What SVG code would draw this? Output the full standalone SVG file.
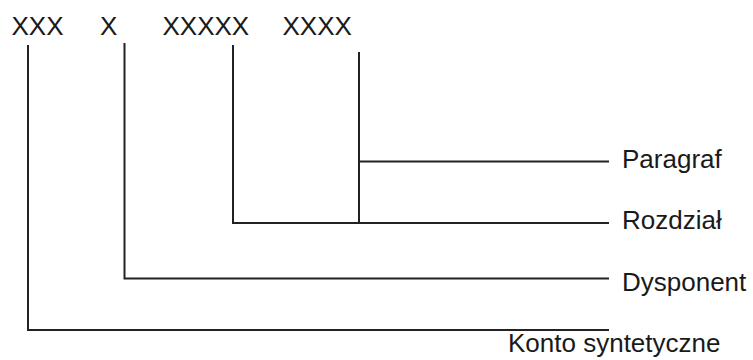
<svg xmlns="http://www.w3.org/2000/svg" width="753" height="360" viewBox="0 0 753 360">
<style>
text{font-family:"Liberation Sans",Arial,sans-serif;font-size:26px;fill:#1a1a1a}
.c{fill:none;stroke:#222;stroke-width:2;stroke-linecap:butt;stroke-linejoin:miter}
</style>
<rect width="753" height="360" fill="#fff"/>
<g id="codes">
<text x="11.5" y="35">XXX</text>
<text x="100" y="35">X</text>
<text x="162.5" y="35">XXXXX</text>
<text x="282.5" y="35">XXXX</text>
</g>
<g id="connectors">
<polyline class="c" points="28,45 28,330 609,330"/>
<polyline class="c" points="124.5,43 124.5,278.5 609,278.5"/>
<polyline class="c" points="233,45 233,223 609,223"/>
<line class="c" x1="359" y1="52" x2="359" y2="223"/>
<line class="c" x1="359" y1="161.5" x2="609" y2="161.5"/>
</g>
<g id="paragraf"><text x="622" y="168">Paragraf</text></g>
<g id="rozdzial"><text x="622" y="229">Rozdział</text></g>
<g id="dysponent"><text x="622" y="291">Dysponent</text></g>
<g id="konto"><text x="508" y="352">Konto syntetyczne</text></g>
</svg>
